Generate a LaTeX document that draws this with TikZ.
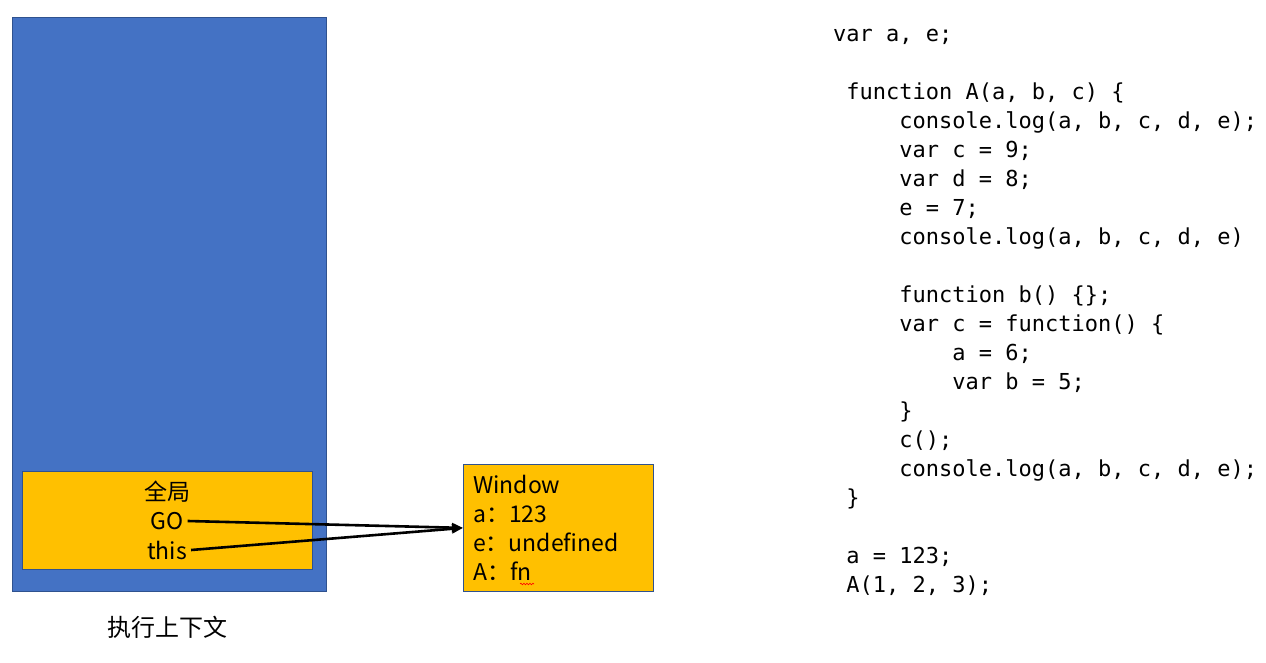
\documentclass[tikz,border=0pt]{standalone}
\usepackage{fontspec}
\usetikzlibrary{arrows.meta,positioning,decorations.pathmorphing}
\newfontfamily\cjk{Noto Sans CJK SC}
\newfontfamily\code{DejaVu Sans Mono}
\definecolor{stackblue}{HTML}{4472C4}
\definecolor{edgeblue}{HTML}{2F528F}
\definecolor{ctxyellow}{HTML}{FFC000}
\newcommand{\ind}[1]{\hspace*{#1\fontcharwd\font`\0}}

\begin{document}
\begin{tikzpicture}[x=1pt,y=-1pt,
    box/.style={draw=edgeblue,line width=0.8pt,inner sep=0pt,anchor=north west},
    lbl/.style={font=\cjk\fontsize{23}{29}\selectfont,inner sep=0pt},
    ptr/.style={-{Triangle[length=11pt,width=9pt]},line width=2.6pt}]
        \useasboundingbox (0,0) rectangle (1266,663);
        \node[box,fill=stackblue,minimum width=314pt,minimum height=574pt] (stack) at (12,17) {};
        \node[box,fill=ctxyellow,minimum width=290pt,minimum height=98pt] (global) at (22,471) {};
        \node[lbl] (gname) at (167,492) {全局};
        \node[lbl] (go) at (167,521) {GO};
        \node[lbl] (this) at (167,550) {this};
        \node[lbl,font=\cjk\fontsize{24}{29}\selectfont] (ctx) at (167,627) {执行上下文};
        \node[box,fill=ctxyellow,minimum width=190pt,minimum height=127pt] (win) at (463,464) {};
        \node[lbl,align=left,anchor=base west] (winvars) at (473,580) {Window\\a：123\\e：undefined\\A：fn};
        \draw[red,line width=0.6pt,decorate,decoration={snake,amplitude=0.8pt,segment length=3pt}] (520,584) -- (534,584);
        \path[ptr] ([xshift=4pt]go.east) edge (win.west);
        \path[ptr] ([xshift=4pt]this.east) edge (win.west);
        \node[font=\code\fontsize{22}{29}\selectfont,align=left,anchor=base west,inner sep=0pt] (src) at (833,592) {
          var a, e;\\[29pt]
          \ind1function A(a, b, c) \{\\
          \ind5console.log(a, b, c, d, e);\\
          \ind5var c = 9;\\
          \ind5var d = 8;\\
          \ind5e = 7;\\
          \ind5console.log(a, b, c, d, e)\\[29pt]
          \ind5function b() \{\};\\
          \ind5var c = function() \{\\
          \ind9a = 6;\\
          \ind9var b = 5;\\
          \ind5\}\\
          \ind5c();\\
          \ind5console.log(a, b, c, d, e);\\
          \ind1\}\\[29pt]
          \ind1a = 123;\\
          \ind1A(1, 2, 3);};
      \end{tikzpicture}
\end{document}
